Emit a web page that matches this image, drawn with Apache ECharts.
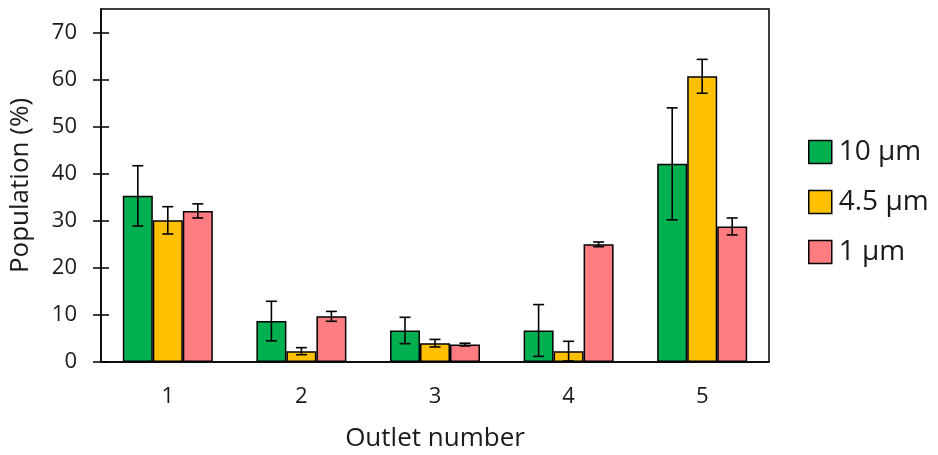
<!DOCTYPE html>
<html><head><meta charset="utf-8">
<script src="https://cdn.jsdelivr.net/npm/echarts@6/dist/echarts.min.js"></script>
<style>html,body{margin:0;padding:0;background:#fff}#c{width:938px;height:455px}</style>
</head><body><div id="c"></div>
<script>
const categories = ['1', '2', '3', '4', '5'];
const seriesNames = ['10 μm', '4.5 μm', '1 μm'];
const green = [35.3, 8.7, 6.7, 6.7, 42.1];
const greenErr = [6.4, 4.2, 2.8, 5.5, 11.9];
const yellow = [30.1, 2.3, 4.0, 2.3, 60.7];
const yellowErr = [2.9, 0.75, 0.8, 2.1, 3.6];
const pink = [32.1, 9.7, 3.7, 25.0, 28.8];
const pinkErr = [1.5, 1.05, 0.3, 0.5, 1.8];
const yTicks = [0, 10, 20, 30, 40, 50, 60, 70];

const colors = ['#00B050', '#FFC000', '#FF7C80'];
const values = [green, yellow, pink];
const errs = [greenErr, yellowErr, pinkErr];
const FONT = 'Open Sans';
const TXT = '#1a1a1a';
const BARW = 30;

const series = [];
values.forEach((v, i) => {
  series.push({
    name: seriesNames[i], type: 'bar', data: v, barWidth: BARW, barGap: '0%',
    itemStyle: { color: colors[i], borderColor: '#000', borderWidth: 1.5 },
    z: 2
  });
});
values.forEach((v, i) => {
  series.push({
    type: 'custom', z: 5, silent: true,
    data: v.map((val, k) => [k, val, errs[i][k]]),
    renderItem: function (params, api) {
      const k = api.value(0), val = api.value(1), e = api.value(2);
      const base = api.coord([k, val]);
      const x = base[0] + (i - 1) * BARW;
      const top = api.coord([k, val + e])[1];
      const bot = api.coord([k, Math.max(0, val - e)])[1];
      const cap = 5.5;
      const st = { stroke: '#000', lineWidth: 1.6 };
      return { type: 'group', children: [
        { type: 'line', shape: { x1: x, y1: top, x2: x, y2: bot }, style: st },
        { type: 'line', shape: { x1: x - cap, y1: top, x2: x + cap, y2: top }, style: st },
        { type: 'line', shape: { x1: x - cap, y1: bot, x2: x + cap, y2: bot }, style: st }
      ]};
    }
  });
});

const chart = echarts.init(document.getElementById('c'));
chart.setOption({
  animation: false,
  textStyle: { fontFamily: FONT },
  grid: { left: 101, right: 169, top: 9, bottom: 93, outerBoundsMode: 'none', show: true, borderColor: '#000', borderWidth: 1.5, backgroundColor: 'transparent' },
  legend: {
    orient: 'vertical', left: 803, top: 133, itemWidth: 23, itemHeight: 23, itemGap: 22,
    icon: 'rect',
    data: seriesNames,
    textStyle: { fontFamily: FONT, fontSize: 28, color: TXT, padding: [0, 0, 0, 2] },
    itemStyle: { borderColor: '#000', borderWidth: 1.5 }
  },
  xAxis: {
    type: 'category', data: categories,
    axisLine: { lineStyle: { color: '#000', width: 1.5 } },
    axisTick: { show: false },
    axisLabel: { fontFamily: FONT, fontSize: 22, color: TXT, margin: 24 },
    name: 'Outlet number', nameLocation: 'middle', nameGap: 64,
    nameTextStyle: { fontFamily: FONT, fontSize: 26, color: TXT }
  },
  yAxis: [{
    type: 'value', min: 0, max: 75, interval: 10,
    splitLine: { show: false },
    axisLine: { show: true, lineStyle: { color: '#000', width: 1.5 } },
    axisTick: { show: true, length: 8, customValues: yTicks, lineStyle: { color: '#000', width: 1.5 } },
    axisLabel: { fontFamily: FONT, fontSize: 22, color: TXT, margin: 24, customValues: yTicks },
    name: 'Population (%)', nameLocation: 'middle', nameGap: 67,
    nameTextStyle: { fontFamily: FONT, fontSize: 26, color: TXT }
  }, {
    type: 'value', min: 0, max: 75, interval: 10, position: 'left',
    splitLine: { show: false },
    axisLine: { show: false },
    axisTick: { show: true, inside: true, length: 8, customValues: yTicks, lineStyle: { color: '#000', width: 1.5 } },
    axisLabel: { show: false }
  }],
  series: series
});
</script></body></html>
